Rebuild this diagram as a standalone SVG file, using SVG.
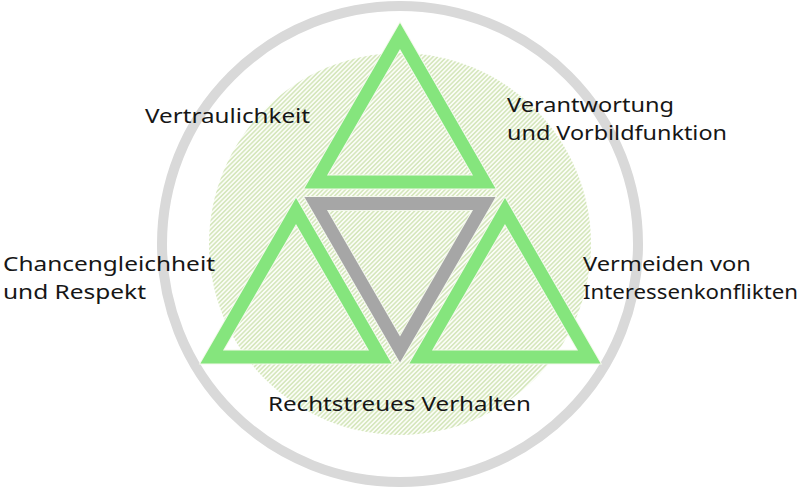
<svg xmlns="http://www.w3.org/2000/svg" width="800" height="489" viewBox="0 0 800 489">
  <defs>
    <pattern id="hatch" patternUnits="userSpaceOnUse" width="3.2" height="3.2" patternTransform="rotate(45)">
      <rect width="3.2" height="3.2" fill="#fbfdf7"/>
      <line x1="0.8" y1="0" x2="0.8" y2="3.2" stroke="#c6dda4" stroke-width="1.1"/>
    </pattern>
  </defs>
  <style>
    .halo { fill: none; stroke: #f4f9ec; stroke-width: 15; stroke-linejoin: miter; stroke-miterlimit: 10; }
    .green { fill: none; stroke: #85e57d; stroke-width: 13; stroke-linejoin: miter; stroke-miterlimit: 10; }
    .grey { fill: none; stroke: #a6a6a6; stroke-width: 13; stroke-linejoin: miter; stroke-miterlimit: 10; }
    .lbl { font-family: "Noto Sans", "Liberation Sans", sans-serif; font-size: 20px; fill: #161616; }
  </style>
  <rect width="800" height="489" fill="#ffffff"/>
  <g id="background">
    <circle cx="400" cy="244" r="191" fill="url(#hatch)"/>
    <circle cx="400" cy="244" r="238" fill="none" stroke="#d9d9d9" stroke-width="10"/>
  </g>
  <g id="connectors"></g>
  <g id="triangle-top">
    <polygon class="halo" points="400,36 484.3,182 315.7,182"/>
    <polygon class="green" points="400,36 484.3,182 315.7,182"/>
  </g>
  <g id="triangle-center">
    <polygon class="halo" points="315.7,203.5 484.3,203.5 400,349.5"/>
    <polygon class="grey" points="315.7,203.5 484.3,203.5 400,349.5"/>
  </g>
  <g id="triangle-left">
    <polygon class="halo" points="296,211 380.3,357 211.7,357"/>
    <polygon class="green" points="296,211 380.3,357 211.7,357"/>
  </g>
  <g id="triangle-right">
    <polygon class="halo" points="505,211 589.3,357 420.7,357"/>
    <polygon class="green" points="505,211 589.3,357 420.7,357"/>
  </g>
  <g id="label-vertraulichkeit">
    <text class="lbl" x="145" y="122.5" textLength="165" lengthAdjust="spacingAndGlyphs">Vertraulichkeit</text>
  </g>
  <g id="label-verantwortung">
    <text class="lbl" x="507" y="111.5" textLength="167" lengthAdjust="spacingAndGlyphs">Verantwortung</text>
    <text class="lbl" x="507" y="139.5" textLength="220" lengthAdjust="spacingAndGlyphs">und Vorbildfunktion</text>
  </g>
  <g id="label-chancengleichheit">
    <text class="lbl" x="3" y="270.5" textLength="212" lengthAdjust="spacingAndGlyphs">Chancengleichheit</text>
    <text class="lbl" x="3" y="299" textLength="143" lengthAdjust="spacingAndGlyphs">und Respekt</text>
  </g>
  <g id="label-vermeiden">
    <text class="lbl" x="583" y="270.5" textLength="168" lengthAdjust="spacingAndGlyphs">Vermeiden von</text>
    <text class="lbl" x="583" y="299" textLength="215" lengthAdjust="spacingAndGlyphs">Interessenkonflikten</text>
  </g>
  <g id="label-rechtstreues">
    <text class="lbl" x="268" y="410.5" textLength="263" lengthAdjust="spacingAndGlyphs">Rechtstreues Verhalten</text>
  </g>
</svg>
